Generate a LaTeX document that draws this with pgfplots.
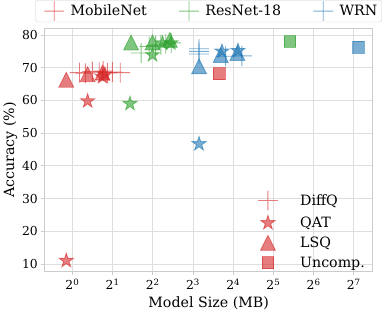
\documentclass[border=0pt]{standalone}
\usepackage{fontspec}
\setmainfont{DejaVu Serif}
\usepackage{pgfplots}
\pgfplotsset{compat=1.18}
\definecolor{tabred}{RGB}{214,39,40}
\definecolor{tabgreen}{RGB}{44,160,44}
\definecolor{tabblue}{RGB}{31,119,180}
\definecolor{gridgray}{RGB}{222,222,222}
\definecolor{framegray}{RGB}{204,204,204}

% matplotlib-like '+', '^' and '*' markers (all filled paths)
\pgfdeclareplotmark{mplus}{%
  \pgfpathrectangle{\pgfpoint{-\pgfplotmarksize}{-0.45bp}}{\pgfpoint{2\pgfplotmarksize}{0.9bp}}%
  \pgfpathrectangle{\pgfpoint{-0.45bp}{-\pgfplotmarksize}}{\pgfpoint{0.9bp}{2\pgfplotmarksize}}%
  \pgfusepathqfill}
\pgfdeclareplotmark{mtri}{%
  \pgfpathmoveto{\pgfqpoint{0pt}{\pgfplotmarksize}}%
  \pgfpathlineto{\pgfqpoint{-\pgfplotmarksize}{-\pgfplotmarksize}}%
  \pgfpathlineto{\pgfqpoint{\pgfplotmarksize}{-\pgfplotmarksize}}%
  \pgfpathclose\pgfusepathqfillstroke}
\pgfdeclareplotmark{mstar}{%
  \pgfpathmoveto{\pgfpointpolar{90}{\pgfplotmarksize}}%
  \pgfpathlineto{\pgfpointpolar{126}{0.382\pgfplotmarksize}}%
  \pgfpathlineto{\pgfpointpolar{162}{\pgfplotmarksize}}%
  \pgfpathlineto{\pgfpointpolar{198}{0.382\pgfplotmarksize}}%
  \pgfpathlineto{\pgfpointpolar{234}{\pgfplotmarksize}}%
  \pgfpathlineto{\pgfpointpolar{270}{0.382\pgfplotmarksize}}%
  \pgfpathlineto{\pgfpointpolar{306}{\pgfplotmarksize}}%
  \pgfpathlineto{\pgfpointpolar{342}{0.382\pgfplotmarksize}}%
  \pgfpathlineto{\pgfpointpolar{18}{\pgfplotmarksize}}%
  \pgfpathlineto{\pgfpointpolar{54}{0.382\pgfplotmarksize}}%
  \pgfpathclose\pgfusepathqfillstroke}

\pgfplotsset{
  diffq/.style={only marks, color=#1, mark=mplus, mark size=10bp,
    mark options={fill=#1, opacity=0.6}},
  qat/.style={only marks, color=#1, mark=mstar, mark size=7.5bp,
    mark options={draw=#1, fill=#1, opacity=0.6, line width=0.8bp}},
  lsq/.style={only marks, color=#1, mark=mtri, mark size=7.5bp,
    mark options={draw=#1, fill=#1, opacity=0.6, line width=0.8bp}},
  unc/.style={only marks, color=#1, mark=square*, mark size=6bp,
    mark options={draw=#1, fill=#1, opacity=0.6, line width=0.8bp}},
  toplegimg/.style={legend image code/.code={%
      \path[draw=none, fill=none] (-6bp,-6bp) rectangle (20bp,6bp);
      \draw[##1] plot coordinates {(10bp,0bp)};}},
  botlegimg/.style={legend image code/.code={%
      \path[draw=none, fill=none] (0bp,-6bp) rectangle (20bp,6bp);
      \draw[##1] plot coordinates {(10bp,0bp)};}},
}

\begin{document}
\begin{tikzpicture}
\begin{axis}[
  name=main, scale only axis, width=331bp, height=246bp,
  xmode=log, log basis x=2, xmin=0.62, xmax=177, ymin=7.6, ymax=82.1,
  xtick={1,2,4,8,16,32,64,128},
  xticklabels={2\textsuperscript{0},2\textsuperscript{1},2\textsuperscript{2},2\textsuperscript{3},2\textsuperscript{4},2\textsuperscript{5},2\textsuperscript{6},2\textsuperscript{7}},
  minor x tick num=0, ytick={10,20,...,80},
  /pgf/number format/assume math mode=true,
  grid=major, major grid style={gridgray, line width=0.9bp},
  axis line style={framegray, line width=0.9bp},
  tick style={framegray, line width=0.9bp}, tick align=outside, major tick length=3.5bp,
  xtick pos=left, ytick pos=left,
  ticklabel style={font=\fontsize{12.5}{14}\selectfont},
  label style={font=\fontsize{14.4}{16}\selectfont},
  xlabel={Model Size (MB)}, ylabel={Accuracy (\%)},
  ylabel style={yshift=-2bp},
  toplegimg,
  legend columns=3,
  legend style={at={(0.5,1)}, anchor=south, yshift=6bp, draw=framegray, rounded corners=2bp,
    font=\fontsize{14.4}{16}\selectfont, inner xsep=3bp, inner ysep=1bp,
    nodes={inner sep=1.5bp},
    /tikz/every odd column/.append style={column sep=5bp},
    /tikz/every even column/.append style={column sep=25bp},
    /tikz/column 6/.append style={column sep=0bp}},
]
% MobileNet
\addplot[diffq=tabred] coordinates {(1.13,68.5)(1.25,68.3)(1.41,68.8)(1.59,68.6)(1.70,69.0)(1.83,68.4)(1.99,68.7)(2.28,68.5)};
\addlegendentry{MobileNet}
% ResNet-18
\addplot[diffq=tabgreen] coordinates {(3.27,74.5)(3.76,76.5)(4.2,76.8)(4.6,77.0)(5.0,77.3)(5.5,77.6)};
\addlegendentry{ResNet-18}
% WRN
\addplot[diffq=tabblue] coordinates {(8.88,75.8)(8.88,74.2)(8.88,75.0)(14.0,73.5)(18.6,73.6)};
\addlegendentry{WRN}

\addplot[qat=tabred, forget plot] coordinates {(0.90,11.0)(1.30,59.8)(1.68,67.2)(1.75,68.0)};
\addplot[qat=tabgreen, forget plot] coordinates {(2.70,59.0)(3.98,73.9)(4.73,77.5)(5.46,77.5)};
\addplot[qat=tabblue, forget plot] coordinates {(8.88,46.7)(13.2,75.0)(17.4,75.2)};

\addplot[lsq=tabred, forget plot] coordinates {(0.90,66.3)(1.30,68.0)(1.68,68.5)};
\addplot[lsq=tabgreen, forget plot] coordinates {(2.75,77.7)(3.98,77.7)(5.37,78.5)};
\addplot[lsq=tabblue, forget plot] coordinates {(8.88,70.4)(12.9,73.9)(17.2,74.5)};

\addplot[unc=tabred, forget plot] coordinates {(12.6,68.2)};
\addplot[unc=tabgreen, forget plot] coordinates {(42.5,78.0)};
\addplot[unc=tabblue, forget plot] coordinates {(139,76.2)};
\end{axis}

% second legend: method markers
\begin{axis}[
  scale only axis, width=331bp, height=246bp, at={(main.south west)}, anchor=south west,
  xmin=0, xmax=1, ymin=0, ymax=1, hide axis, botlegimg,
  legend cell align=left,
  legend style={at={(0.641,0.342)}, anchor=north west, draw=none, fill=none,
    font=\fontsize{14.4}{16}\selectfont, nodes={inner sep=1.5bp}, row sep=5bp,
    /tikz/every odd column/.append style={column sep=21bp}},
]
\addplot[draw=none, forget plot] coordinates {(0.5,0.5)};
\addlegendimage{diffq=tabred}
\addlegendentry{DiffQ}
\addlegendimage{qat=tabred}
\addlegendentry{QAT}
\addlegendimage{lsq=tabred}
\addlegendentry{LSQ}
\addlegendimage{unc=tabred}
\addlegendentry{Uncomp.}
\end{axis}
\end{tikzpicture}
\end{document}
